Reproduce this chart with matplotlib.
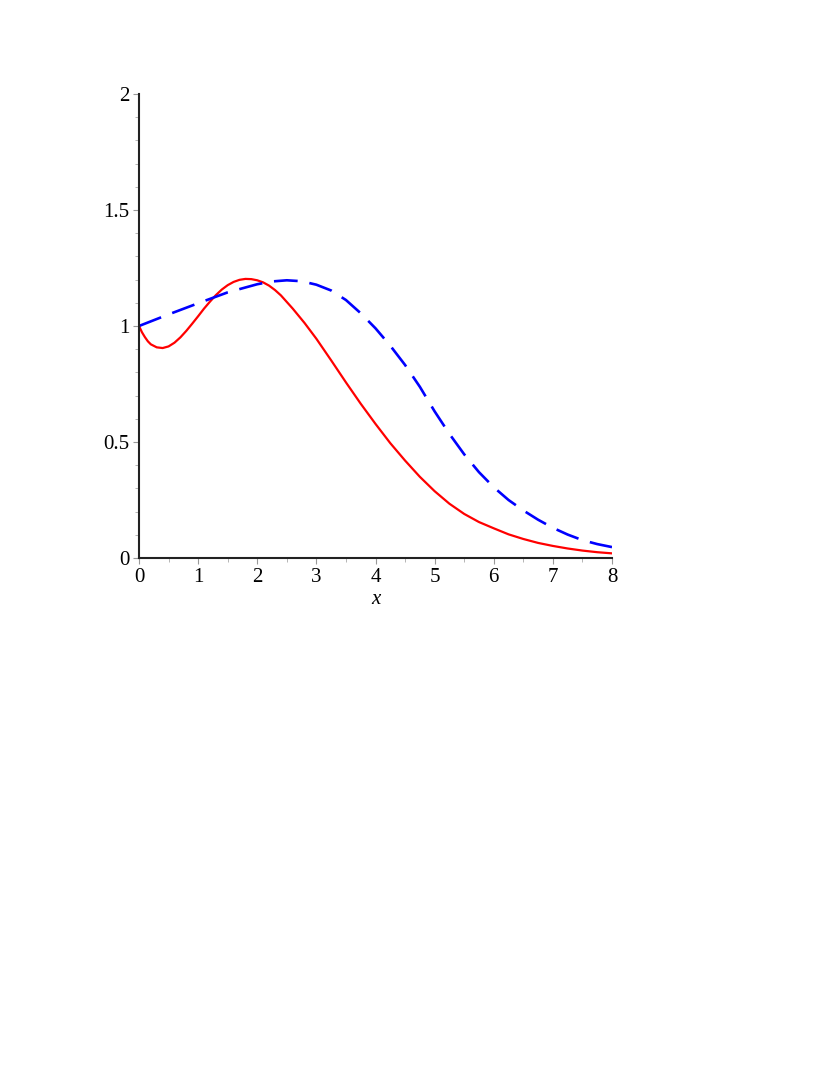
import numpy as np
import matplotlib
matplotlib.use('Agg')
import matplotlib.pyplot as plt
from matplotlib.ticker import MultipleLocator, FixedLocator

# values
red_x = [0.0, 0.05, 0.1, 0.15, 0.2, 0.3, 0.4, 0.5, 0.6, 0.7, 0.8, 0.9, 1.0,
         1.1, 1.2, 1.3, 1.4, 1.5, 1.6, 1.7, 1.8, 1.9, 2.0, 2.1, 2.2, 2.3, 2.4,
         2.6, 2.8, 3.0, 3.25, 3.5, 3.75, 4.0, 4.25, 4.5, 4.75, 5.0, 5.25, 5.5,
         5.75, 6.0, 6.25, 6.5, 6.75, 7.0, 7.25, 7.5, 7.75, 8.0]
red_y = [1.0, 0.973, 0.952, 0.934, 0.921, 0.908, 0.905, 0.912, 0.928, 0.951,
         0.979, 1.01, 1.042, 1.075, 1.105, 1.133, 1.157, 1.176, 1.19, 1.199,
         1.203, 1.202, 1.197, 1.188, 1.174, 1.155, 1.132, 1.075, 1.013, 0.945,
         0.852, 0.757, 0.665, 0.578, 0.495, 0.42, 0.35, 0.288, 0.234, 0.19,
         0.155, 0.128, 0.102, 0.082, 0.065, 0.052, 0.041, 0.032, 0.025, 0.02]

blue_x = [0.0, 0.5, 1.0, 1.5, 2.0, 2.25, 2.5, 2.75, 3.0, 3.25, 3.5, 3.75, 4.0,
          4.25, 4.5, 4.75, 5.0, 5.25, 5.5, 5.75, 6.0, 6.25, 6.5, 6.75, 7.0,
          7.25, 7.5, 7.75, 8.0]
blue_y = [1.0, 1.05, 1.098, 1.145, 1.18, 1.192, 1.197, 1.193, 1.178, 1.153,
          1.112, 1.055, 0.99, 0.915, 0.832, 0.738, 0.632, 0.535, 0.447, 0.37,
          0.305, 0.25, 0.205, 0.165, 0.13, 0.101, 0.077, 0.06, 0.047]

x_ticks = [0, 1, 2, 3, 4, 5, 6, 7, 8]
y_ticks = [0, 0.5, 1, 1.5, 2]
y_labels = ['0', '0.5', '1', '1.5', '2']

plt.rcParams['font.family'] = ['Liberation Serif', 'DejaVu Serif']

fig = plt.figure(figsize=(8.34, 10.79), dpi=100)
ax = fig.add_axes([139/834, 1 - 558/1079, (612-139)/834, (558-94)/1079])

ax.plot(red_x, red_y, color='#ff0000', lw=1.6, solid_joinstyle='round')
ax.plot(blue_x, blue_y, color='#0000ff', lw=1.9, dashes=(9, 4.5))

ax.set_xlim(0, 8)
ax.set_ylim(0, 2)

for s in ['top', 'right']:
    ax.spines[s].set_visible(False)
for s in ['left', 'bottom']:
    ax.spines[s].set_linewidth(1.5)
    ax.spines[s].set_color('#222222')

ax.xaxis.set_major_locator(FixedLocator(x_ticks))
ax.yaxis.set_major_locator(FixedLocator(y_ticks))
ax.set_yticklabels(y_labels)
ax.xaxis.set_minor_locator(MultipleLocator(0.5))
ax.yaxis.set_minor_locator(MultipleLocator(0.1))

ax.tick_params(which='major', length=4, width=0.8, color='#999999',
               labelsize=15, pad=3)
ax.tick_params(which='minor', length=3, width=0.6, color='#aaaaaa')

ax.set_xlabel('x', fontsize=15, fontstyle='italic', labelpad=2)

fig.savefig('out.png', dpi=100)
